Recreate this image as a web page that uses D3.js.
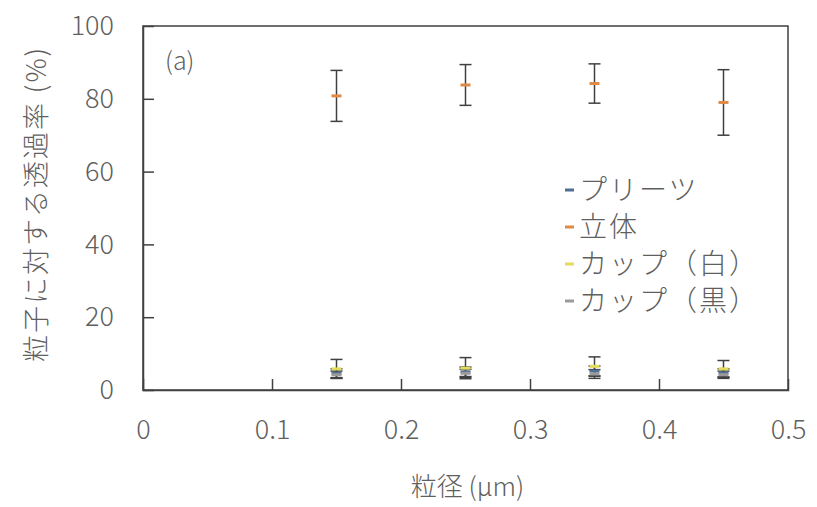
<!DOCTYPE html>
<html>
<head>
<meta charset="utf-8">
<script src="https://cdn.jsdelivr.net/npm/d3@7"></script>
<style>
  body { margin: 0; background: #fff; }
  text { font-family: "Noto Sans CJK JP", "Noto Sans", sans-serif; fill: #5f5f5f; font-weight: 300; }
</style>
</head>
<body>
<svg id="chart" width="817" height="507"></svg>
<script>
const sizes = [0.15, 0.25, 0.35, 0.45]
const seriesNames = ['プリーツ', '立体', 'カップ（白）', 'カップ（黒）']
const seriesColors = ['#4f6f96', '#e08a45', '#e3dc5a', '#9a9a9a']
const pleats = [4.6, 5.0, 5.2, 4.7]
const pleatsErr = [1.2, 1.3, 1.4, 1.1]
const rittai = [80.8, 83.8, 84.2, 79.0]
const rittaiErr = [7.0, 5.6, 5.4, 9.0]
const cupWhite = [5.8, 6.0, 6.5, 5.8]
const cupWhiteErr = [2.6, 2.9, 2.6, 2.3]
const cupBlack = [4.2, 4.6, 4.4, 4.2]
const cupBlackErr = [1.0, 1.1, 1.2, 1.0]
const xTicks = [0, 0.1, 0.2, 0.3, 0.4, 0.5]
const yTicks = [0, 20, 40, 60, 80, 100]

const values = [pleats, rittai, cupWhite, cupBlack]
const errors = [pleatsErr, rittaiErr, cupWhiteErr, cupBlackErr]

const width = 817, height = 507
const margin = { top: 26, right: 29, bottom: 117, left: 143 }
const w = width - margin.left - margin.right
const h = height - margin.top - margin.bottom

const svg = d3.select('#chart')
const x = d3.scaleLinear().domain([0, 0.5]).range([0, w])
const y = d3.scaleLinear().domain([0, 100]).range([h, 0])

const chart = svg.append('g').attr('transform', `translate(${margin.left}, ${margin.top})`)

// plot border
chart.append('rect')
  .attr('width', w).attr('height', h)
  .attr('fill', 'none').attr('stroke', '#404040').attr('stroke-width', 1.5)

const yAxis = chart.append('g')
  .call(d3.axisLeft(y).tickValues(yTicks).tickSize(-11).tickPadding(29))
const xAxis = chart.append('g')
  .attr('transform', `translate(0, ${h})`)
  .call(d3.axisBottom(x).tickValues(xTicks).tickSize(-11).tickPadding(30).tickFormat(d => d === 0 ? '0' : d3.format('.1f')(d)))

;[yAxis, xAxis].forEach(a => {
  a.select('.domain').attr('stroke', '#404040').attr('stroke-width', 1.5)
  a.selectAll('.tick line').attr('stroke', '#404040').attr('stroke-width', 1.5)
  a.selectAll('.tick text').style('font-size', '27px').attr('fill', '#5f5f5f')
})
xAxis.selectAll('.tick').filter(d => d === 0 || d === 0.5).select('line').remove()
yAxis.selectAll('.tick').filter(d => d === 0 || d === 100).select('line').remove()

// error bars + markers
values.forEach((vals, si) => {
  const g = chart.append('g')
  sizes.forEach((s, i) => {
    const cx = x(s), v = vals[i], e = errors[si][i]
    g.append('line')
      .attr('x1', cx).attr('x2', cx).attr('y1', y(v + e)).attr('y2', y(v - e))
      .attr('stroke', '#404040').attr('stroke-width', 1.5)
    ;[v + e, v - e].forEach(c => g.append('line')
      .attr('x1', cx - 6).attr('x2', cx + 6).attr('y1', y(c)).attr('y2', y(c))
      .attr('stroke', '#404040').attr('stroke-width', 1.5))
  })
})
values.forEach((vals, si) => {
  chart.append('g').selectAll('line')
    .data(sizes)
    .enter().append('line')
      .attr('x1', d => x(d) - 5).attr('x2', d => x(d) + 5)
      .attr('y1', (d, i) => y(vals[i])).attr('y2', (d, i) => y(vals[i]))
      .attr('stroke', seriesColors[si]).attr('stroke-width', 3)
})

// panel label
chart.append('text').attr('x', 22).attr('y', 44).style('font-size', '25px').text('(a)')

// legend
const legend = chart.append('g').attr('transform', 'translate(422, 164)')
seriesNames.forEach((n, i) => {
  const row = legend.append('g').attr('transform', `translate(0, ${i * 37})`)
  row.append('line').attr('x1', 0).attr('x2', 9).attr('y1', 0).attr('y2', 0)
    .attr('stroke', seriesColors[i]).attr('stroke-width', 3)
  row.append('text').attr('x', 14).attr('y', 0).attr('dy', '0.36em')
    .style('font-size', '28px').style('letter-spacing', '2px').text(n)
})

// axis titles
svg.append('text')
  .attr('x', margin.left + w / 2 + 2).attr('y', 496)
  .attr('text-anchor', 'middle').style('font-size', '26px').text('粒径 (μm)')
svg.append('text')
  .attr('transform', `translate(37, ${margin.top + h / 2 - 4}) rotate(-90)`)
  .attr('text-anchor', 'middle').attr('dy', '0.35em').style('font-size', '27px')
  .style('letter-spacing', '2px')
  .text('粒子に対する透過率 (%)')
</script>
</body>
</html>
